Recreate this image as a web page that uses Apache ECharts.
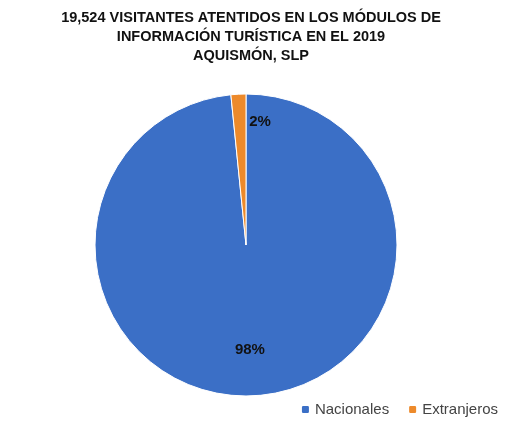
<!DOCTYPE html>
<html><head><meta charset="utf-8">
<script src="https://cdn.jsdelivr.net/npm/echarts@6/dist/echarts.min.js"></script>
<style>html,body{margin:0;padding:0;background:#fff}#c{width:507px;height:429px}</style>
</head><body><div id="c"></div>
<script>
const categories = ["Nacionales", "Extranjeros"];
const values = [19212, 312];
const colors = ["#3b6fc6", "#ed8a2b"];
const titleText = "19,524 VISITANTES ATENTIDOS EN LOS MÓDULOS DE\nINFORMACIÓN TURÍSTICA EN EL 2019\nAQUISMÓN, SLP";
const offsets = [[0, 26], [18, -45]];
const chart = echarts.init(document.getElementById('c'));
chart.setOption({
  animation: false,
  title: { text: titleText, left: 246, textAlign: 'center', top: 3,
    textStyle: { fontFamily: 'Liberation Sans', fontWeight: 'bold', fontSize: 14.5, lineHeight: 19, color: '#111' } },
  legend: { bottom: 7, right: 4, itemWidth: 9, itemHeight: 9, itemGap: 18,
    textStyle: { fontFamily: 'Liberation Sans', fontSize: 15, color: '#444' }, data: categories },
  series: [{
    type: 'pie', center: [246, 245], radius: 151, startAngle: 90,
    labelLine: { show: false },
    data: categories.map((n, i) => ({ name: n, value: values[i],
      itemStyle: { color: colors[i], borderColor: '#fff', borderWidth: 1 },
      label: { show: true, position: 'inside', offset: offsets[i],
        formatter: p => Math.round(p.percent) + '%',
        fontFamily: 'Liberation Sans', fontWeight: 'bold', fontSize: 15, color: '#111' } }))
  }]
});
</script></body></html>
